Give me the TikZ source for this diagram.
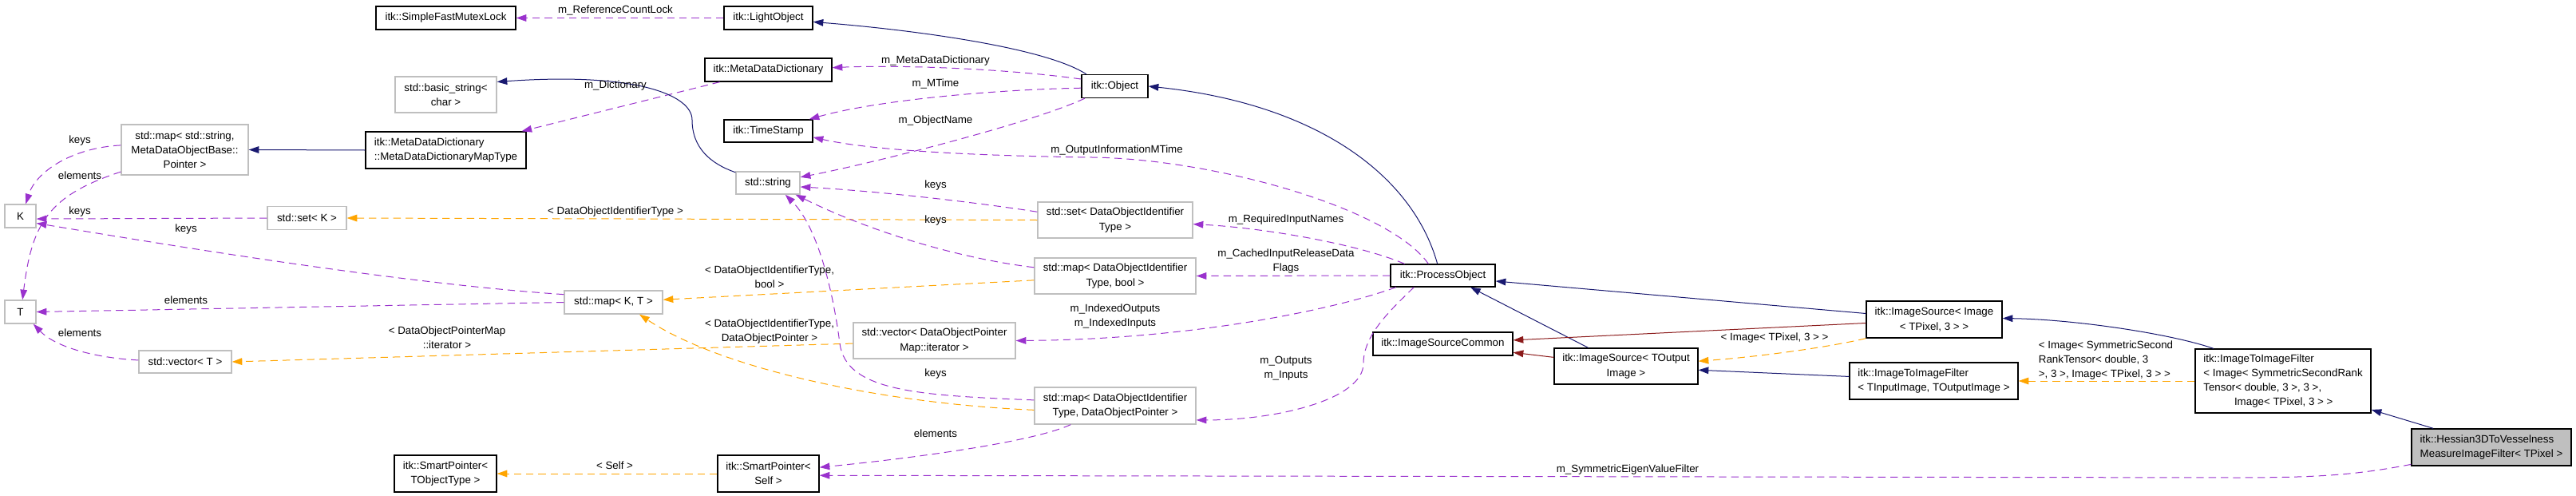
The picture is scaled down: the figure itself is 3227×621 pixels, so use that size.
\documentclass[tikz,border=0pt]{standalone}
\usepackage{fontspec}
\setmainfont{Liberation Sans}
\usetikzlibrary{arrows.meta}

\definecolor{inhblue}{HTML}{191970}
\definecolor{privred}{HTML}{8B1A1A}
\definecolor{usepurple}{HTML}{9A32CD}
\definecolor{tmplorange}{HTML}{FFA500}
\definecolor{extgray}{HTML}{BFBFBF}

\tikzset{every picture/.style={line width=0.75pt}}
\tikzset{
  cls/.style={draw=black, fill=white, line width=1pt, inner sep=3pt, align=center, font=\fontsize{10}{13.7}\selectfont},
  ext/.style={cls, draw=extgray},
  cur/.style={cls, fill=extgray},
  lbl/.style={inner sep=0pt, align=center, font=\fontsize{10}{13.7}\selectfont},
  inh/.style={color=inhblue, -{Triangle[length=9.5pt,width=6.5pt]}},
  pinh/.style={inh, color=privred},
  use/.style={inh, color=usepurple, dash pattern=on 7pt off 4.5pt},
  tmpl/.style={use, color=tmplorange}
}

\begin{document}
\begin{tikzpicture}[x=0.75pt,y=0.75pt,yscale=-1]
\path[use as bounding box] (0,0) rectangle (3227,621);

% Class Nodes
\draw (558.5,22.5) node [cls, minimum width=131.25pt, minimum height=21.75pt] (mutex) {itk::SimpleFastMutexLock};
\draw (962.5,22.5) node [cls, minimum width=83.25pt, minimum height=21.75pt] (light) {itk::LightObject};
\draw (558.5,118.5) node [ext, minimum width=95.25pt, minimum height=33.75pt] (basicstr) {std::basic\_string<\\char >};
\draw (962.5,87.5) node [cls, minimum width=119.25pt, minimum height=21.75pt] (mdd) {itk::MetaDataDictionary};
\draw (1396.5,108) node [cls, minimum width=62.25pt, minimum height=21.75pt] (object) {itk::Object};
\draw (962.5,164) node [cls, minimum width=83.25pt, minimum height=21pt] (stamp) {itk::TimeStamp};
\draw (231.5,187.5) node [ext, minimum width=119.25pt, minimum height=47.25pt] (mapss) {std::map< std::string,\\MetaDataObjectBase::\\Pointer >};
\draw (558.5,188) node [cls, align=left, minimum width=150.75pt, minimum height=34.5pt] (maptype) {itk::MetaDataDictionary\\::MetaDataDictionaryMapType};
\draw (962,229) node [ext, minimum width=60pt, minimum height=21pt] (stdstr) {std::string};
\draw (25.5,270.5) node [ext, minimum width=29.25pt, minimum height=21.75pt] (K) {K};
\draw (384.5,273) node [ext, minimum width=74.25pt, minimum height=21.75pt] (setK) {std::set< K >};
\draw (1397,275.5) node [ext, minimum width=145.5pt, minimum height=33.75pt] (setdoit) {std::set< DataObjectIdentifier\\Type >};
\draw (768.5,378.5) node [ext, minimum width=92.25pt, minimum height=21.75pt] (mapKT) {std::map< K, T >};
\draw (25.5,390.5) node [ext, minimum width=29.25pt, minimum height=21.75pt] (T) {T};
\draw (1397,345.5) node [ext, minimum width=151.5pt, minimum height=33.75pt] (mapbool) {std::map< DataObjectIdentifier\\Type, bool >};
\draw (1170.5,426.5) node [ext, minimum width=152.25pt, minimum height=33.75pt] (vecdopm) {std::vector< DataObjectPointer\\Map::iterator >};
\draw (232,453) node [ext, minimum width=87pt, minimum height=21pt] (vecT) {std::vector< T >};
\draw (1397,508) node [ext, minimum width=151.5pt, minimum height=34.5pt] (mapdop) {std::map< DataObjectIdentifier\\Type, DataObjectPointer >};
\draw (962.5,593) node [cls, minimum width=95.25pt, minimum height=34.5pt] (spself) {itk::SmartPointer<\\Self >};
\draw (558,593) node [cls, minimum width=96pt, minimum height=34.5pt] (spobj) {itk::SmartPointer<\\TObjectType >};
\draw (1807.5,345) node [cls, minimum width=98.25pt, minimum height=21pt] (process) {itk::ProcessObject};
\draw (1807.5,430.5) node [cls, minimum width=131.25pt, minimum height=21.75pt] (common) {itk::ImageSourceCommon};
\draw (2037,458.5) node [cls, minimum width=135pt, minimum height=33.75pt] (isout) {itk::ImageSource< TOutput\\Image >};
\draw (2423,400) node [cls, minimum width=127.5pt, minimum height=34.5pt] (isimg) {itk::ImageSource< Image\\< TPixel, 3 > >};
\draw (2422.5,477) node [cls, align=left, minimum width=158.25pt, minimum height=34.5pt] (itif) {itk::ImageToImageFilter\\< TInputImage, TOutputImage >};
\draw (2860,477) node [cls, align=left, minimum width=165pt, minimum height=60pt] (itif2) {itk::ImageToImageFilter\\< Image< SymmetricSecondRank\\Tensor< double, 3 >, 3 >,\\\hspace*{29pt}Image< TPixel, 3 > >};
\draw (3121,560) node [cur, align=left, minimum width=150pt, minimum height=34.5pt] (hessian) {itk::Hessian3DToVesselness\\MeasureImageFilter< TPixel >};

%Straight Lines
\draw [use] (light.west) -- (mutex.east) ;
\draw [use] (mdd.194) -- (maptype.14) ;
\draw [inh] (maptype.west) -- (mapss.east) ;
\draw [use] (setK.west) -- (K.-10) ;
\draw [use] (mapKT.west) -- (T.east) ;
\draw [tmpl] (setdoit.west) -- (setK.east) ;
\draw [tmpl] (mapbool.183) -- (mapKT.3) ;
\draw [tmpl] (vecdopm.182) -- (vecT.east) ;
\draw [tmpl] (spself.west) -- (spobj.east) ;
\draw [use] (process.west) -- (mapbool.east) ;
\draw [inh] (isout.154) -- (process.-23) ;
\draw [pinh] (isout.173) -- (common.-7) ;
\draw [inh] (isimg.175) -- (process.-6) ;
\draw [pinh] (isimg.183) -- (common.3) ;
\draw [inh] (itif.177) -- (isout.-3) ;
\draw [tmpl] (itif2.west) -- (itif.east) ;
\draw [inh] (hessian.162) -- (itif2.-18) ;

%Curve Lines
\draw [inh] (object.157) .. controls (1310,60) and (1150,38) .. (light.-5) ;
\draw [use] (object.168) .. controls (1260,86) and (1130,81) .. (mdd.2) ;
\draw [use] (object.183) .. controls (1250,112) and (1100,125) .. (stamp.16) ;
\draw [use] (object.202) .. controls (1290,155) and (1090,205) .. (stdstr.10) ;
\draw [inh] (process.115) .. controls (1770,220) and (1650,130) .. (object.east) ;
\draw [inh] (stdstr.162) .. controls (890,205) and (867,185) .. (867,150) .. controls (867,120) and (800,90) .. (basicstr.14) ;
\draw [use] (mapss.176) .. controls (90,185) and (45,215) .. (K.66) ;
\draw [use] (mapss.199) .. controls (60,245) and (40,280) .. (T.80) ;
\draw [use] (mapKT.171) .. controls (500,355) and (200,305) .. (K.-24) ;
\draw [use] (vecT.178) .. controls (120,448) and (70,435) .. (T.-43) ;
\draw [use] (setdoit.174) .. controls (1200,250) and (1080,238) .. (stdstr.-7) ;
\draw [use] (mapbool.174) .. controls (1190,322) and (1080,285) .. (stdstr.-23) ;
\draw [use] (mapdop.176) .. controls (1150,495) and (1060,490) .. (1052,430) .. controls (1047,390) and (1030,290) .. (stdstr.-34) ;
\draw [tmpl] (mapdop.183) .. controls (1100,505) and (900,460) .. (mapKT.-25) ;
\draw [use] (mapdop.203) .. controls (1290,555) and (1130,575) .. (spself.7) ;
\draw [use] (process.163) .. controls (1700,305) and (1580,285) .. (setdoit.-3) ;
\draw [use] (process.141) .. controls (1740,260) and (1520,199) .. (1368,197) .. controls (1216,195) and (1090,188) .. (stamp.-8) ;
\draw [use] (process.194) .. controls (1680,385) and (1500,425) .. (vecdopm.east) ;
\draw [use] (process.202) .. controls (1740,390) and (1708,420) .. (1708,455) .. controls (1708,500) and (1600,526) .. (mapdop.-10) ;
\draw [tmpl] (isimg.south west) .. controls (2290,435) and (2200,447) .. (isout.4) ;
\draw [inh] (itif2.155) .. controls (2720,418) and (2600,400) .. (isimg.1) ;
\draw [use] (hessian.192) .. controls (2950,595) and (2900,598) .. (2800,598) -- (spself.-2) ;

% Text Node
\draw (771,13) node [lbl] (lRef) {m\_ReferenceCountLock};
\draw (1172,76) node [lbl] (lMdd) {m\_MetaDataDictionary};
\draw (1172,105) node [lbl] (lMTime) {m\_MTime};
\draw (1172,151) node [lbl] (lName) {m\_ObjectName};
\draw (771,107) node [lbl] (lDict) {m\_Dictionary};
\draw (100,176) node [lbl] (lKeysA) {keys};
\draw (100,220) node [lbl] (lElemA) {elements};
\draw (100,265) node [lbl] (lKeysB) {keys};
\draw (233,287) node [lbl] (lKeysC) {keys};
\draw (233,376) node [lbl] (lElemB) {elements};
\draw (100,417) node [lbl] (lElemC) {elements};
\draw (771,265) node [lbl] (lSetK) {< DataObjectIdentifierType >};
\draw (1172,232) node [lbl] (lKeysD) {keys};
\draw (1172,276) node [lbl] (lKeysE) {keys};
\draw (1172,468) node [lbl] (lKeysF) {keys};
\draw (964,347) node [lbl] (lMapBool) {< DataObjectIdentifierType,\\bool >};
\draw (964,415) node [lbl] (lMapDop) {< DataObjectIdentifierType,\\DataObjectPointer >};
\draw (560,423) node [lbl] (lVec) {< DataObjectPointerMap\\::iterator >};
\draw (1172,543) node [lbl] (lElemD) {elements};
\draw (770,583) node [lbl] (lSelf) {< Self >};
\draw (1611,275) node [lbl] (lReq) {m\_RequiredInputNames};
\draw (1399,188) node [lbl] (lOutInfo) {m\_OutputInformationMTime};
\draw (1611,327) node [lbl] (lCached) {m\_CachedInputReleaseData\\Flags};
\draw (1397,396) node [lbl] (lIndexed) {m\_IndexedOutputs\\m\_IndexedInputs};
\draw (1611,461) node [lbl] (lOutputs) {m\_Outputs\\m\_Inputs};
\draw (2223,423) node [lbl] (lImg) {< Image< TPixel, 3 > >};
\draw (2638,451) node [lbl, align=left] (lTensor) {< Image< SymmetricSecond\\RankTensor< double, 3\\>, 3 >, Image< TPixel, 3 > >};
\draw (2039,588) node [lbl] (lEigen) {m\_SymmetricEigenValueFilter};

\end{tikzpicture}
\end{document}
